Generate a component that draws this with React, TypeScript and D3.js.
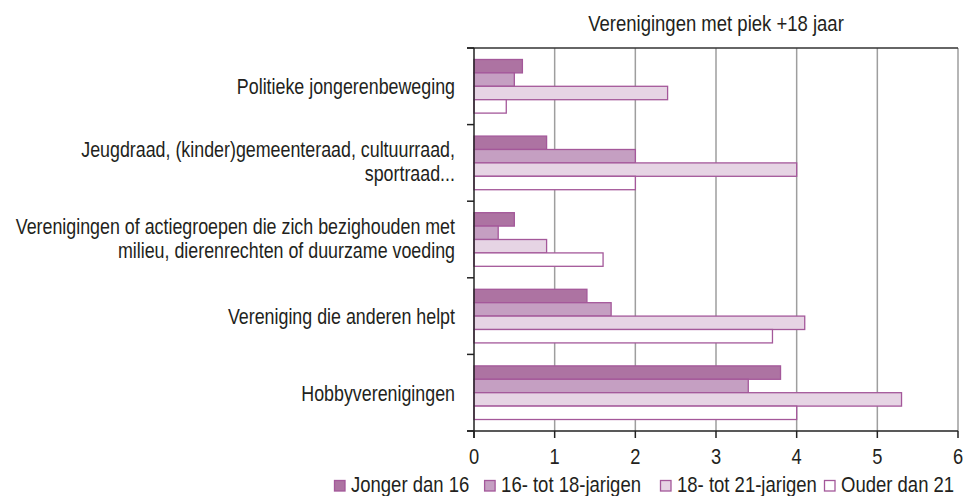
import React from "react";
import * as d3 from "d3";

const categoryLines: string[][] = [
  ["Politieke jongerenbeweging"],
  ["Jeugdraad, (kinder)gemeenteraad, cultuurraad,", "sportraad..."],
  ["Verenigingen of actiegroepen die zich bezighouden met", "milieu, dierenrechten of duurzame voeding"],
  ["Vereniging die anderen helpt"],
  ["Hobbyverenigingen"],
];
const seriesNames = ["Jonger dan 16", "16- tot 18-jarigen", "18- tot 21-jarigen", "Ouder dan 21"];
const jongerDan16 = [0.6, 0.9, 0.5, 1.4, 3.8];
const tot18 = [0.5, 2.0, 0.3, 1.7, 3.4];
const tot21 = [2.4, 4.0, 0.9, 4.1, 5.3];
const ouderDan21 = [0.4, 2.0, 1.6, 3.7, 4.0];
const xTicks = [0, 1, 2, 3, 4, 5, 6];
const title = "Verenigingen met piek +18 jaar";

const seriesValues = [jongerDan16, tot18, tot21, ouderDan21];
const fills = ["#ad73a2", "#c59fc2", "#e6d4e4", "#ffffff"];
const stroke = "#a4589a";
const textColor = "#231f20";
const FS = 22.3;
const FONT = "'Liberation Sans', Arial, sans-serif";

const W = 963, H = 496;
const left = 474, right = 958, top = 48, bottom = 431;

function T({ x, y, anchor = "start", sx = 0.8, children }: any) {
  return (
    <text
      transform={`translate(${x},${y}) scale(${sx},1)`}
      textAnchor={anchor}
      fontFamily={FONT}
      fontSize={FS}
      fill={textColor}
    >
      {children}
    </text>
  );
}

export default function App() {
  const x = d3.scaleLinear().domain([0, 6]).range([left, right]);
  const y = d3
    .scaleBand<number>()
    .domain(d3.range(categoryLines.length))
    .range([top, bottom])
    .paddingInner(0.3)
    .paddingOuter(0.15);
  const ySub = d3
    .scaleBand<number>()
    .domain(d3.range(seriesNames.length))
    .range([0, y.bandwidth()]);
  const step = y.step();
  const boundaries = d3.range(categoryLines.length + 1).map((i) => top + i * step);

  const legendX = [334.5, 484.6, 660.5, 824.5];

  return (
    <svg width={W} height={H} style={{ position: "absolute", left: 0, top: 0 }}>
      <rect width={W} height={H} fill="#fff" />
      {/* gridlines */}
      {xTicks.slice(1).map((t) => (
        <line key={t} x1={x(t)} x2={x(t)} y1={top} y2={bottom} stroke="#9e9e9e" strokeWidth={1.5} />
      ))}
      {/* bars */}
      {categoryLines.map((_, ci) => (
        <g key={ci} transform={`translate(0,${y(ci)})`}>
          {seriesValues.map((vals, si) => (
            <rect
              key={si}
              x={x(0)}
              y={ySub(si)!}
              width={x(vals[ci]) - x(0)}
              height={ySub.bandwidth()}
              fill={fills[si]}
              stroke={stroke}
              strokeWidth={1.3}
            />
          ))}
        </g>
      ))}
      {/* top line */}
      <line x1={left - 7} x2={right} y1={top} y2={top} stroke="#333" strokeWidth={1.5} />
      {/* left axis */}
      <line x1={left} x2={left} y1={top} y2={bottom + 7} stroke="#222" strokeWidth={1.5} />
      {boundaries.map((b, i) => (
        <line key={i} x1={left - 7} x2={left} y1={b} y2={b} stroke="#222" strokeWidth={1.5} />
      ))}
      {/* bottom axis */}
      <line x1={left - 7} x2={right} y1={bottom} y2={bottom} stroke="#222" strokeWidth={1.5} />
      {xTicks.map((t) => (
        <g key={t}>
          <line x1={x(t)} x2={x(t)} y1={bottom} y2={bottom + 7} stroke="#222" strokeWidth={1.5} />
          <T x={x(t)} y={464} anchor="middle" sx={0.82}>{String(t)}</T>
        </g>
      ))}
      {/* category labels */}
      {categoryLines.map((lines, ci) => {
        const c = y(ci)! + y.bandwidth() / 2;
        const lh = 24;
        const base = c + 8 - ((lines.length - 1) * lh) / 2 - (lines.length > 1 ? 1.5 : 0);
        return lines.map((ln, li) => (
          <T key={`${ci}-${li}`} x={455} y={base + li * lh} anchor="end">{ln}</T>
        ));
      })}
      {/* title */}
      <T x={(left + right) / 2} y={31} anchor="middle" sx={0.83}>{title}</T>
      {/* legend */}
      {seriesNames.map((s, i) => (
        <g key={s}>
          <rect x={legendX[i]} y={480.5} width={10.5} height={10.5} fill={fills[i]} stroke={stroke} strokeWidth={1.3} />
          <T x={legendX[i] + 16.5} y={492} sx={0.83}>{s}</T>
        </g>
      ))}
    </svg>
  );
}
